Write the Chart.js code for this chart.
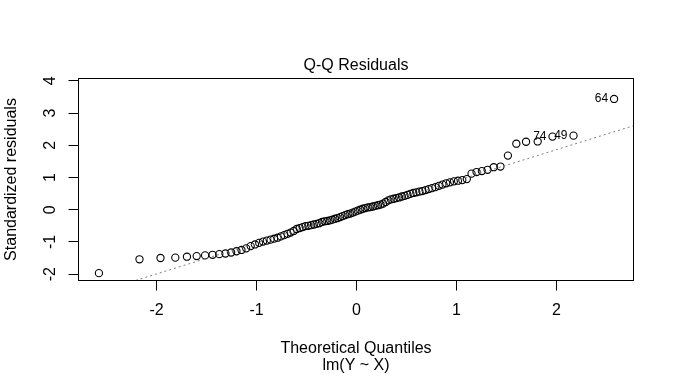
<!DOCTYPE html>
<html><head><meta charset="utf-8">
<script src="https://cdn.jsdelivr.net/npm/chart.js@4/dist/chart.umd.min.js"></script>
<style>html,body{margin:0;padding:0;background:#fff;}canvas{display:block;}</style>
</head><body>
<canvas id="c" width="674" height="379"></canvas>
<script>
// Theoretical normal quantiles (x) of the 100 sorted residuals
const theoreticalQuantiles = [
-2.5758,-2.1701,-1.9600,-1.8119,-1.6954,-1.5982,-1.5141,-1.4395,-1.3722,-1.3106,
-1.2536,-1.2004,-1.1503,-1.1031,-1.0581,-1.0152,-0.9741,-0.9346,-0.8965,-0.8596,
-0.8239,-0.7892,-0.7554,-0.7225,-0.6903,-0.6588,-0.6280,-0.5978,-0.5681,-0.5388,
-0.5101,-0.4817,-0.4538,-0.4261,-0.3989,-0.3719,-0.3451,-0.3186,-0.2924,-0.2663,
-0.2404,-0.2147,-0.1891,-0.1637,-0.1383,-0.1130,-0.0878,-0.0627,-0.0376,-0.0125,
0.0125,0.0376,0.0627,0.0878,0.1130,0.1383,0.1637,0.1891,0.2147,0.2404,
0.2663,0.2924,0.3186,0.3451,0.3719,0.3989,0.4261,0.4538,0.4817,0.5101,
0.5388,0.5681,0.5978,0.6280,0.6588,0.6903,0.7225,0.7554,0.7892,0.8239,
0.8596,0.8965,0.9346,0.9741,1.0152,1.0581,1.1031,1.1503,1.2004,1.2536,
1.3106,1.3722,1.4395,1.5141,1.5982,1.6954,1.8119,1.9600,2.1701,2.5758
];
// Standardized residuals (y), sorted
const standardizedResiduals = [
-1.97,-1.54,-1.50,-1.49,-1.46,-1.44,-1.42,-1.40,-1.38,-1.36,
-1.33,-1.29,-1.25,-1.20,-1.13,-1.08,-1.03,-0.99,-0.96,-0.93,
-0.90,-0.87,-0.83,-0.79,-0.75,-0.71,-0.66,-0.60,-0.57,-0.54,
-0.51,-0.50,-0.48,-0.46,-0.44,-0.42,-0.38,-0.36,-0.35,-0.33,
-0.31,-0.28,-0.26,-0.23,-0.20,-0.17,-0.14,-0.12,-0.09,-0.06,
-0.03,0.00,0.03,0.05,0.07,0.08,0.10,0.12,0.14,0.16,
0.19,0.24,0.29,0.32,0.34,0.36,0.38,0.41,0.43,0.46,
0.49,0.52,0.54,0.56,0.58,0.61,0.64,0.67,0.70,0.74,
0.78,0.82,0.85,0.88,0.90,0.92,0.95,1.12,1.17,1.20,
1.24,1.32,1.34,1.68,2.05,2.11,2.12,2.27,2.30,3.44
];
// Labelled (most extreme) observations: position in sorted list and observation id
const labelPositions = [97, 98, 99];
const labelIds = ['74', '49', '64'];
// Reference (qqline)
const qqlineIntercept = -0.065;
const qqlineSlope = 0.965;
// Axis limits and text
const xLimits = [-2.78, 2.77];
const yLimits = [-2.199, 4.075];
const titleText = 'Q-Q Residuals';
const xTitleLines = ['Theoretical Quantiles', 'lm(Y ~ X)'];
const yTitleText = 'Standardized residuals';

const FONT = "'Liberation Sans', Arial, Helvetica, sans-serif";

const points = theoreticalQuantiles.map((q, i) => ({x: q, y: standardizedResiduals[i]}));
const lineData = xLimits.map(x => ({x: x, y: qqlineIntercept + qqlineSlope * x}));

const boxPlugin = {
  id: 'box',
  afterDraw(chart) {
    const {ctx, chartArea: a} = chart;
    ctx.save();
    ctx.strokeStyle = '#000';
    ctx.lineWidth = 1;
    ctx.strokeRect(a.left, a.top, a.right - a.left, a.bottom - a.top);
    ctx.restore();
  }
};
const yTickLabelPlugin = {
  id: 'yTickLabels',
  afterDraw(chart) {
    const s = chart.scales.y;
    const ctx = chart.ctx;
    ctx.save();
    ctx.fillStyle = '#000';
    ctx.font = '16px ' + FONT;
    ctx.textAlign = 'center';
    ctx.textBaseline = 'middle';
    s.ticks.forEach(t => {
      const py = s.getPixelForValue(t.value);
      ctx.save();
      ctx.translate(51, py);
      ctx.rotate(-Math.PI / 2);
      ctx.fillText(t.label, 0, 0);
      ctx.restore();
    });
    ctx.restore();
  }
};
const idLabelPlugin = {
  id: 'idLabels',
  afterDatasetsDraw(chart) {
    const meta = chart.getDatasetMeta(1);
    const ctx = chart.ctx;
    ctx.save();
    ctx.fillStyle = '#000';
    ctx.font = '12px ' + FONT;
    ctx.textAlign = 'right';
    ctx.textBaseline = 'middle';
    labelPositions.forEach((p, k) => {
      const el = meta.data[p];
      ctx.fillText(labelIds[k], el.x - 6, el.y);
    });
    ctx.restore();
  }
};

new Chart(document.getElementById('c'), {
  type: 'scatter',
  data: {
    datasets: [
      {
        type: 'line',
        data: lineData,
        borderColor: '#7f7f7f',
        borderWidth: 1,
        borderDash: [2, 3],
        pointRadius: 0,
        fill: false,
        tension: 0
      },
      {
        type: 'scatter',
        data: points,
        pointStyle: 'circle',
        pointRadius: 3.6,
        pointBorderWidth: 1.1,
        pointBorderColor: '#000',
        pointBackgroundColor: 'rgba(0,0,0,0)',
        pointHoverRadius: 3.6
      }
    ]
  },
  options: {
    responsive: false,
    animation: false,
    devicePixelRatio: 1,
    events: [],
    layout: {padding: {left: 0, right: 40.5, top: 0, bottom: 0}},
    plugins: {legend: {display: false}, tooltip: {enabled: false}, title: {display: false}},
    scales: {
      x: {
        type: 'linear', position: 'bottom',
        min: xLimits[0], max: xLimits[1],
        afterFit(s) { s.height = 98.5; },
        ticks: {stepSize: 1, includeBounds: false, color: '#000', padding: 10.4, maxRotation: 0,
                font: {family: FONT, size: 16}},
        grid: {display: true, drawOnChartArea: false, drawTicks: true, tickLength: 10, color: '#000', lineWidth: 1},
        border: {display: false},
        title: {display: true, text: xTitleLines, color: '#000',
                font: {family: FONT, size: 16, lineHeight: 1.045},
                padding: {top: 0, bottom: 5.3}}
      },
      xTop: {
        type: 'linear', position: 'top',
        min: xLimits[0], max: xLimits[1],
        afterFit(s) { s.height = 78.5; },
        ticks: {display: false},
        grid: {display: false},
        border: {display: false},
        title: {display: true, text: titleText, color: '#000',
                font: {family: FONT, size: 16, lineHeight: 1.2},
                padding: {top: 55.9, bottom: 0}}
      },
      y: {
        type: 'linear', position: 'left',
        min: yLimits[0], max: yLimits[1],
        afterFit(s) { s.width = 78.5; },
        ticks: {stepSize: 1, includeBounds: false, display: false, font: {family: FONT, size: 16}},
        grid: {display: true, drawOnChartArea: false, drawTicks: true, tickLength: 10, color: '#000', lineWidth: 1},
        border: {display: false},
        title: {display: true, text: yTitleText, color: '#000',
                font: {family: FONT, size: 16, lineHeight: 1.2},
                padding: {top: 2.2, bottom: 0}}
      }
    }
  },
  plugins: [boxPlugin, yTickLabelPlugin, idLabelPlugin]
});
</script>
</body></html>
